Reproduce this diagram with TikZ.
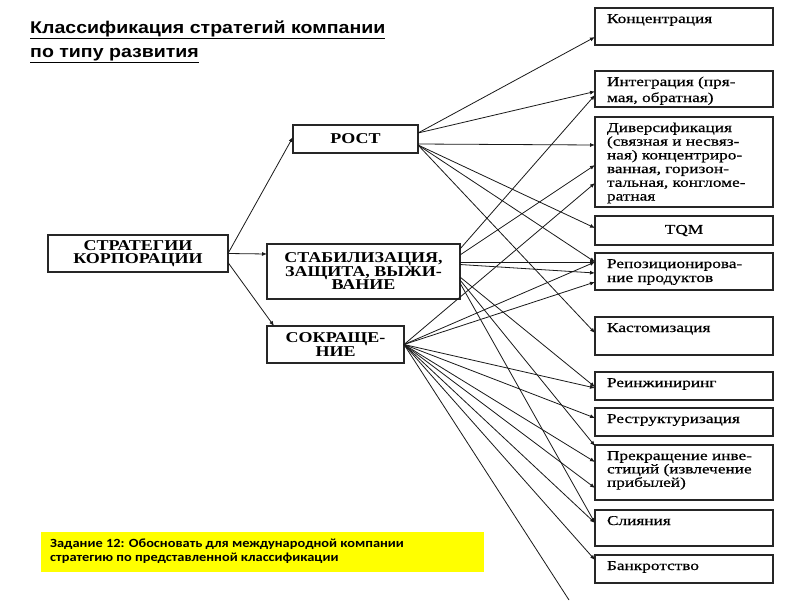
\documentclass[tikz,border=0pt]{standalone}
\usepackage{fontspec}
\setmainfont{Liberation Serif}
\newfontfamily\rfont[FakeStretch=1.28,FakeBold=0.6]{Liberation Serif}
\newfontfamily\lfont[FakeStretch=1.2]{Liberation Serif}
\newfontfamily\tfont[FakeStretch=1.15]{Liberation Sans}
\newfontfamily\zfont[FakeStretch=1.15]{Carlito}
\usetikzlibrary{arrows.meta}
\newcommand{\rtxt}[3]{\parbox[c][#1][t]{154pt}{\raggedright\baselineskip=#2\relax\rule{0pt}{15pt}#3}}
\begin{document}
\begin{tikzpicture}[x=1pt,y=-1pt,
  rbox/.style={draw=black!85, line width=1.2pt, inner xsep=12pt, inner ysep=0pt, outer sep=0pt,
    font=\rfont\fontsize{13.5}{17}\selectfont},
  lbox/.style={draw=black!85, line width=1.2pt, inner sep=0pt, outer sep=0pt, align=center,
    font=\lfont\bfseries\fontsize{15}{13.5}\selectfont},
  conn/.style={draw=black!90, line width=0.8pt, -{Latex[length=5pt,width=4pt]}},
  plain/.style={draw=black!90, line width=0.8pt}]
\useasboundingbox (0,0) rectangle (800,600);
\fill[white] (0,0) rectangle (800,600);

% title
\node[anchor=base west, inner sep=0pt, align=left, font=\tfont\bfseries\fontsize{17}{24}\selectfont] (title) at (30,57)
  {\underline{Классификация стратегий компании}\\\underline{по типу развития}};

% left boxes
\node[lbox, minimum width=180pt, minimum height=37pt] (str) at (138,253.5) {СТРАТЕГИИ\\КОРПОРАЦИИ};
\node[lbox, minimum width=125pt, minimum height=28pt] (rost) at (355.5,139) {РОСТ};
\node[lbox, minimum width=193pt, minimum height=55pt] (stab) at (363.5,271.5) {СТАБИЛИЗАЦИЯ,\\ЗАЩИТА, ВЫЖИ-\\ВАНИЕ};
\node[lbox, minimum width=137pt, minimum height=37pt] (sokr) at (335.5,344.5) {СОКРАЩЕ-\\НИЕ};

% right boxes
\node[rbox] (conc) at (684,26.5) {\rtxt{37pt}{16pt}{Концентрация}};
\node[rbox] (integ) at (684,89) {\rtxt{36pt}{16pt}{Интеграция (пря-\\мая, обратная)}};
\node[rbox] (div) at (684,162) {\rtxt{90pt}{13.7pt}{Диверсификация\\(связная и несвяз-\\ная) концентриро-\\ванная, горизон-\\тальная, конгломе-\\ратная}};
\node[rbox] (tqm) at (684,230.5) {\parbox[c][29pt][c]{154pt}{\centering TQM}};
\node[rbox] (repos) at (684,271.5) {\rtxt{37pt}{14pt}{Репозиционирова-\\ние продуктов}};
\node[rbox] (cust) at (684,336) {\rtxt{38pt}{14pt}{Кастомизация}};
\node[rbox] (reeng) at (684,386) {\rtxt{28pt}{14pt}{Реинжиниринг}};
\node[rbox] (restr) at (684,422) {\rtxt{28pt}{14pt}{Реструктуризация}};
\node[rbox] (stop) at (684,472.5) {\rtxt{55pt}{13.4pt}{Прекращение инве-\\стиций (извлечение\\прибылей)}};
\node[rbox] (merge) at (684,528) {\rtxt{36pt}{14pt}{Слияния}};
\node[rbox] (bankr) at (684,569) {\rtxt{28pt}{14pt}{Банкротство}};

% task box
\node[fill={rgb,255:red,255;green,255;blue,0}, minimum width=443pt, minimum height=40pt, inner sep=0pt] (task) at (262.5,551.5) {};
\node[anchor=west, inner sep=0pt, align=left, font=\zfont\bfseries\fontsize{12.5}{13.5}\selectfont] (tasktext) at (50,551)
  {Задание 12: Обосновать для международной компании\\стратегию по представленной классификации};

% connectors from the root
\draw[conn] (str.east) -- ([yshift=2pt]rost.west);
\draw[conn] (str.east) -- ([yshift=17.5pt]stab.west);
\draw[conn] ([yshift=-9pt]str.east) -- ([xshift=7pt]sokr.north west);

% from РОСТ
\draw[conn] ([yshift=6pt]rost.east) -- ([yshift=-10.5pt]conc.west);
\draw[conn] ([yshift=6pt]rost.east) -- ([yshift=-2.5pt]integ.west);
\draw[conn] ([yshift=-5pt]rost.east) -- ([yshift=17pt]div.west);
\draw[conn] ([yshift=-6pt]rost.east) -- ([yshift=2.5pt]tqm.west);
\draw[conn] ([yshift=-6pt]rost.east) -- ([yshift=9.5pt]repos.west);
\draw[conn] ([yshift=-6pt]rost.east) -- ([yshift=3pt]cust.west);

% from СТАБИЛИЗАЦИЯ
\draw[conn] ([yshift=22.5pt]stab.east) -- ([yshift=-6pt]integ.west);
\draw[conn] ([yshift=16.5pt]stab.east) -- ([yshift=-3pt]div.west);
\draw[conn] ([yshift=9.5pt]stab.east) -- ([yshift=9.5pt]repos.west);
\draw[conn] ([yshift=7pt]stab.east) -- ([yshift=-1.5pt]repos.west);
\draw[conn] ([yshift=-5.5pt]stab.east) -- ([yshift=-1pt]reeng.west);
\draw[conn] ([yshift=-8.5pt]stab.east) -- ([yshift=26.5pt]stop.west);
\draw[conn] ([yshift=-11.5pt]stab.east) -- ([yshift=5pt]merge.west);

% from СОКРАЩЕНИЕ
\coordinate (offpage) at (569,600);
\draw[conn] (sokr.east) -- ([yshift=-21pt]div.west);
\draw[conn] (sokr.east) -- ([yshift=9.5pt]repos.west);
\draw[conn] (sokr.east) -- ([yshift=-10.5pt]repos.west);
\draw[conn] (sokr.east) -- ([yshift=-2pt]reeng.west);
\draw[conn] (sokr.east) -- ([yshift=4pt]restr.west);
\draw[conn] (sokr.east) -- ([yshift=10.5pt]stop.west);
\draw[conn] (sokr.east) -- ([yshift=-15.5pt]stop.west);
\draw[conn] (sokr.east) -- ([yshift=5pt]merge.west);
\draw[conn] (sokr.east) -- ([yshift=9pt]bankr.west);
\draw[plain] (sokr.east) -- (offpage);
\end{tikzpicture}
\end{document}
